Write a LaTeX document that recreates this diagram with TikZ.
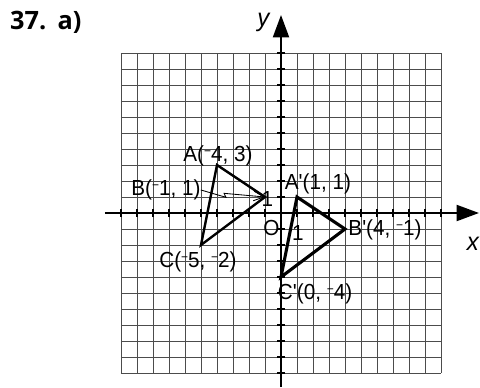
\documentclass[tikz,border=0pt]{standalone}
\usepackage{fontspec}
\usepackage{tikz}
\usetikzlibrary{arrows.meta, positioning, calc}
\newfontfamily\lblfont[FakeStretch=0.95]{Liberation Sans}
\newfontfamily\titlefont{Open Sans}
\newcommand{\mns}{\raisebox{0.3em}{\small −}}

\begin{document}
\begin{tikzpicture}[
  x=0.4cm, y=0.4cm,
  gridline/.style={black!70, line width=0.6pt},
  axis/.style={line width=1.5pt, -{Triangle[length=5.6mm, width=4mm]}},
  tick/.style={line width=1.2pt},
  tri/.style={line width=1.7pt, line join=miter},
  img/.style={line width=2.2pt, line join=miter},
  lbl/.style={font=\fontsize{15.5}{17}\lblfont, inner sep=0pt},
  axlbl/.style={font=\fontsize{18}{19}\lblfont\itshape, inner sep=0pt},
  leader/.style={line width=0.6pt, -{Straight Barb[length=2.6mm, width=2.4mm]}}
]
  \useasboundingbox (-17.5625,-10.875) rectangle (12.4375,13.3125);
  \draw[gridline, step=1] (-10,-10) grid (10,10);
  \draw[axis] (-11,0) -- (12.375,0);
  \draw[axis] (0,-10.875) -- (0,12.375);
  \foreach \k in {-10,...,10} {
    \draw[tick] (\k,-0.22) -- (\k,0.22);
    \draw[tick] (-0.22,\k) -- (0.22,\k);
  }
  \coordinate (A) at (-4,3);
  \coordinate (B) at (-1,1);
  \coordinate (C) at (-5,-2);
  \coordinate (A1) at (1,1);
  \coordinate (B1) at (4,-1);
  \coordinate (C1) at (0,-4);
  \draw[tri] (A) -- (B) -- (C) -- cycle;
  \draw[img] (A1) -- (B1) -- (C1) -- cycle;
  \node[lbl] (Albl) at (-3.94,3.56) {A(\mns4, 3)};
  \node[lbl] (Blbl) at (-7.19,1.44) {B(\mns1, 1)};
  \node[lbl] (Clbl) at (-5.19,-3.06) {C(\mns5, \mns2)};
  \node[lbl] (A1lbl) at (2.31,1.81) {A'(1, 1)};
  \node[lbl] (B1lbl) at (6.5,-1.06) {B'(4, \mns1)};
  \node[lbl] (C1lbl) at (2.13,-5.06) {C'(0, \mns4)};
  \node[lbl] (one y) at (-0.85,0.85) {1};
  \node[lbl] (orig) at (-0.6,-0.94) {O};
  \node[lbl] (one x) at (1.06,-1.25) {1};
  \node[axlbl] (ylbl) at (-1.1,11.94) {y};
  \node[axlbl] (xlbl) at (12,-1.94) {x};
  \node[font=\fontsize{18}{20}\titlefont\bfseries, inner sep=0pt] (title) at (-14.7,11.94) {37.\hspace{0.45em}a)};
  \coordinate (kink1) at (-3.44,0.98);
  \coordinate (kink2) at (-3.56,1.23);
  \draw[leader] (Blbl.east) -- (kink1) -- (kink2) -- (B);
\end{tikzpicture}
\end{document}
